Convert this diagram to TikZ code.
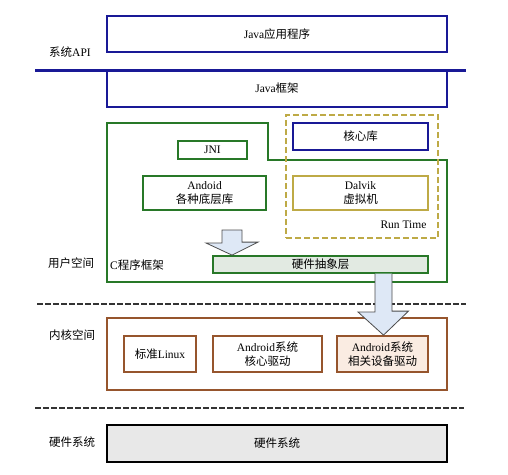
\documentclass[tikz,border=0pt]{standalone}
\usepackage{fontspec}
\setmainfont{Liberation Serif}
\newfontfamily\cjk{Noto Sans CJK SC}
\newcommand{\zh}[1]{{\cjk #1}}
\usetikzlibrary{positioning, calc}

\definecolor{apiblue}{RGB}{25,25,150}
\definecolor{cgreen}{RGB}{40,120,40}
\definecolor{rtyellow}{RGB}{190,170,70}
\definecolor{kbrown}{RGB}{150,85,45}
\definecolor{arrowfill}{RGB}{222,232,246}
\definecolor{halfill}{RGB}{226,234,226}
\definecolor{hwfill}{RGB}{232,232,232}
\definecolor{peach}{RGB}{250,236,226}

\begin{document}
\begin{tikzpicture}[x=1pt, y=-1pt, font=\fontsize{11.5}{13}\selectfont,
            layer/.style={draw, line width=2.4pt, minimum width=340, inner sep=0pt},
            inbox/.style={draw, line width=1.8pt, inner sep=0pt, align=center},
            sidelabel/.style={font=\fontsize{11.5}{13}\selectfont},
            sepline/.style={line width=1.4pt, black!80, dash pattern=on 6pt off 2pt},
            hollow/.style={draw=black!70, line width=0.8pt, fill=arrowfill}]

        \useasboundingbox (0,0) rectangle (508,474);

        % --- Java layers ---
        \node[layer, draw=apiblue, minimum height=36] (app) at (277,34) {Java\zh{应用程序}};
        \node[layer, draw=apiblue, minimum height=37] (fw) at (277,88.5) {Java\zh{框架}};
        \coordinate (apiL) at (35,70);
        \coordinate (apiR) at (466,70);
        \draw[apiblue, line width=3pt] (apiL) -- (apiR);
        \node[sidelabel] (api) at (70,52) {\zh{系统}API};

        % --- User space ---
        \draw[cgreen, line width=2.4pt] (107,123) -- (268,123) -- (268,160) -- (447,160)
              -- (447,282) -- (107,282) -- cycle;
        \node[draw=rtyellow, line width=1.5pt, dash pattern=on 6pt off 3pt, minimum width=152,
              minimum height=123, inner sep=0pt] (rt) at (362,176.5) {};
        \node[inbox, draw=apiblue, minimum width=135, minimum height=27] (core) at (360.5,136.5) {\zh{核心库}};
        \node[inbox, draw=cgreen, minimum width=69, minimum height=18] (jni) at (212.5,150) {JNI};
        \node[inbox, draw=cgreen, minimum width=123, minimum height=34] (libs) at (204.5,193)
              {Andoid\\[1.5pt]\zh{各种底层库}};
        \node[inbox, draw=rtyellow, minimum width=135, minimum height=34] (dalvik) at (360.5,193)
              {Dalvik\\[1.5pt]\zh{虚拟机}};
        \node[anchor=east] (rtlabel) at (430,225) {Run Time};
        \node[inbox, draw=cgreen, fill=halfill, minimum width=215, minimum height=17] (hal) at (320.5,264.5)
              {\zh{硬件抽象层}};
        \node[anchor=west, inner sep=0pt] (cfw) at (110,265) {C\zh{程序框架}};
        \node[sidelabel] (user) at (71,263) {\zh{用户空间}};

        % --- Kernel space ---
        \coordinate (sep1L) at (37,304);
        \coordinate (sep1R) at (466,304);
        \draw[sepline] (sep1L) -- (sep1R);
        \node[layer, draw=kbrown, minimum height=72] (kernel) at (277,354) {};
        \node[inbox, draw=kbrown, minimum width=72, minimum height=36] (linux) at (160,354) {\zh{标准}Linux};
        \node[inbox, draw=kbrown, minimum width=109, minimum height=36] (kdrv) at (267.5,354)
              {Android\zh{系统}\\[1.5pt]\zh{核心驱动}};
        \node[inbox, draw=kbrown, fill=peach, minimum width=91, minimum height=36] (ddrv) at (382.5,354)
              {Android\zh{系统}\\[1.5pt]\zh{相关设备驱动}};
        \node[sidelabel] (kspace) at (72,335) {\zh{内核空间}};

        % --- Hardware ---
        \coordinate (sep2L) at (35,408);
        \coordinate (sep2R) at (464,408);
        \draw[sepline] (sep2L) -- (sep2R);
        \node[layer, draw=black, fill=hwfill, minimum height=37] (hw) at (277,443.5) {\zh{硬件系统}};
        \node[sidelabel] (hwlabel) at (72,442) {\zh{硬件系统}};

        % --- Block arrows ---
        \coordinate (a1) at (232,230);
        \draw[hollow] (a1) ++(-10,0) -- ++(0,13) -- ++(-16,0) -- (hal.north -| a1)
              -- ($(a1 |- hal.north)+(26,-13)$) -- ++(-16,0) -- ($(a1)+(10,0)$) -- cycle;
        \coordinate (a2) at (383.5,273.5);
        \draw[hollow] (a2) ++(-8.5,0) -- ++(0,38.5) -- ++(-17,0) -- (ddrv.north -| a2)
              -- ($(a2 |- ddrv.north)+(25,-24)$) -- ++(-16.5,0) -- ($(a2)+(8.5,0)$);

    \end{tikzpicture}
\end{document}
